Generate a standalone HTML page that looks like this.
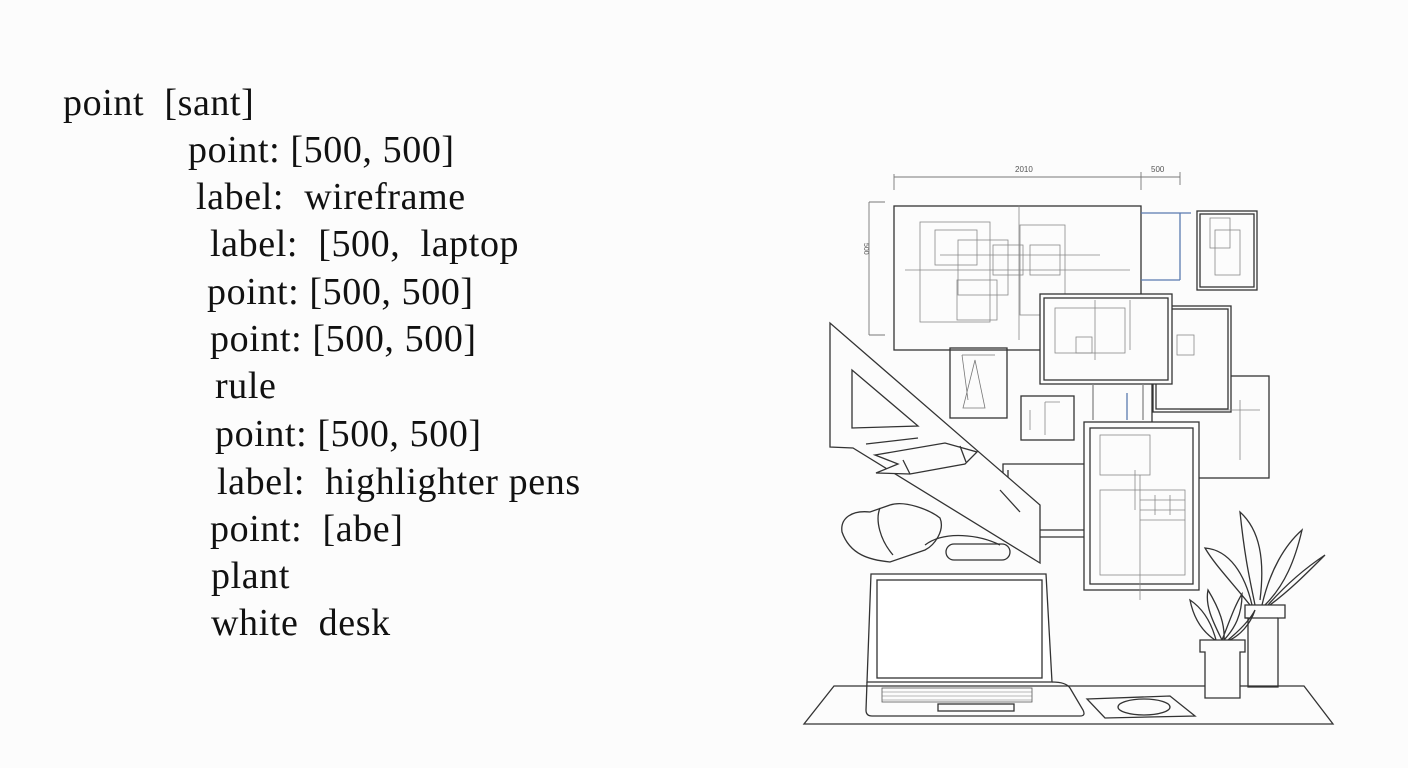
<!DOCTYPE html>
<html><head><meta charset="utf-8"><style>
html,body{margin:0;padding:0;background:#fcfcfc;}
body{width:1408px;height:768px;position:relative;overflow:hidden;}
.t{position:absolute;font-family:"Liberation Serif",serif;font-size:38px;letter-spacing:0.6px;color:#111;white-space:pre;line-height:1;}
svg{position:absolute;left:0;top:0;}
</style></head><body>
<div class="t" style="left:63px;top:84px">point  [sant]</div>
<div class="t" style="left:188px;top:131px">point: [500, 500]</div>
<div class="t" style="left:196px;top:178px">label:  wireframe</div>
<div class="t" style="left:210px;top:225px">label:  [500,  laptop</div>
<div class="t" style="left:207px;top:273px">point: [500, 500]</div>
<div class="t" style="left:210px;top:320px">point: [500, 500]</div>
<div class="t" style="left:215px;top:367px">rule</div>
<div class="t" style="left:215px;top:415px">point: [500, 500]</div>
<div class="t" style="left:217px;top:463px">label:  highlighter pens</div>
<div class="t" style="left:210px;top:510px">point:  [abe]</div>
<div class="t" style="left:211px;top:557px">plant</div>
<div class="t" style="left:211px;top:604px">white  desk</div>
<svg width="1408" height="768" viewBox="0 0 1408 768" fill="none" stroke="#333" stroke-width="1.3">
<path d="M894 174V190M894 177H1141M1141 172V190M1141 177H1180M1180 172V185M869 202H885M869 335H885M869 202V335" stroke="#777" stroke-width="0.9"/>
<text x="1015" y="172" font-size="8" fill="#555" stroke="none" font-family="Liberation Sans,sans-serif">2010</text>
<text x="1151" y="172" font-size="8" fill="#555" stroke="none" font-family="Liberation Sans,sans-serif">500</text>
<text x="864" y="243" font-size="7" fill="#555" stroke="none" font-family="Liberation Sans,sans-serif" transform="rotate(90 864 243)">500</text>
<rect x="894" y="206" width="247" height="144"/>
<g stroke="#888" stroke-width="0.8">
<rect x="920" y="222" width="70" height="100"/><rect x="935" y="230" width="42" height="35"/><rect x="958" y="240" width="50" height="55"/><rect x="993" y="245" width="30" height="30"/><rect x="1030" y="245" width="30" height="30"/><rect x="1020" y="225" width="45" height="90"/><rect x="957" y="280" width="40" height="40"/>
<path d="M1019 205V340M905 270H1130M940 255H1100"/>
</g>
<path d="M1141 213H1191M1180 213V280M1141 280H1180" stroke="#5a7ab0"/>
<rect x="1197" y="211" width="60" height="79"/><rect x="1200" y="214" width="54" height="73"/>
<g stroke="#888" stroke-width="0.8"><rect x="1210" y="218" width="20" height="30"/><rect x="1215" y="230" width="25" height="45"/></g>
<rect x="1152" y="376" width="117" height="102"/>
<rect x="1153" y="306" width="78" height="106" fill="#fcfcfc"/><rect x="1156" y="309" width="72" height="100"/>
<rect x="1040" y="294" width="132" height="90" fill="#fcfcfc"/><rect x="1044" y="298" width="124" height="82"/>
<g stroke="#888" stroke-width="0.8"><rect x="1055" y="308" width="70" height="45"/><rect x="1076" y="337" width="16" height="16"/><rect x="1177" y="335" width="17" height="20"/><path d="M1095 300V360M1130 300V350M1240 400V460M1180 410H1260"/></g>
<path d="M1093 384V420M1143 384V420" stroke="#888"/>
<path d="M1127 393V420" stroke="#5a7ab0"/>
<rect x="950" y="348" width="57" height="70"/>
<g stroke="#777" stroke-width="0.8"><path d="M962 355L968 400M962 355H995M975 360L985 408H963Z"/></g>
<rect x="1021" y="396" width="53" height="44"/>
<g stroke="#888" stroke-width="0.8"><path d="M1030 410V430M1045 402V435M1045 402H1060"/></g>
<path d="M1084 464H1003V537H1084M1008 470V530H1084"/>
<rect x="1084" y="422" width="115" height="168" fill="#fcfcfc"/><rect x="1090" y="428" width="103" height="156"/>
<g stroke="#888" stroke-width="0.8"><rect x="1100" y="435" width="50" height="40"/><rect x="1100" y="490" width="85" height="85"/><path d="M1140 475V600M1135 470V510M1140 500H1185M1140 510H1185M1140 520H1185M1155 495V515M1170 495V515"/></g>
<path d="M830 323V447L853 448L1040 563V505Z" fill="#fcfcfc"/>
<path d="M852 370V428L918 426Z"/>
<path d="M866 444L918 438"/>
<path d="M1020 512L1000 490"/>
<path d="M875 455L945 443L977 452L965 464L910 474L876 473L898 464Z" fill="#fcfcfc"/>
<path d="M903 460L910 474M960 446L966 462"/>
<path d="M842 532C840 518 852 510 870 512L890 505C905 500 930 510 940 518C945 530 935 545 925 550L890 562C870 560 850 555 842 532Z"/>
<path d="M880 508C875 520 880 540 893 555M925 545C945 530 980 535 1000 545"/>
<rect x="946" y="544" width="64" height="16" rx="8"/>
<path d="M871 574H1046L1052 682H867Z" fill="#fff"/>
<rect x="877" y="580" width="165" height="98"/>
<path d="M867 682L866 710Q866 716 872 716H1080Q1086 716 1083 710L1070 688Q1066 682 1052 682"/>
<rect x="882" y="688" width="150" height="14" stroke="#555" stroke-width="0.8"/>
<path d="M882 692H1032M882 696H1032M882 700H1032" stroke="#777" stroke-width="0.6"/>
<rect x="938" y="704" width="76" height="7"/>
<path d="M834 686H1304L1333 724H804Z"/>
<path d="M1087 699L1170 696L1195 716L1105 718Z"/>
<ellipse cx="1144" cy="707" rx="26" ry="8"/>
<path d="M1245 605H1285V618H1278V687H1248V618H1245Z"/>
<path d="M1245 618H1278"/>
<path d="M1255 605C1250 580 1245 560 1240 512C1260 530 1265 560 1260 600M1262 605C1270 570 1285 545 1302 530C1295 560 1285 585 1265 605M1250 605C1230 580 1215 565 1205 548C1230 550 1245 575 1252 605M1268 605C1290 580 1310 565 1325 555C1305 575 1290 590 1270 605"/>
<path d="M1200 640H1245V652H1240V698H1205V652H1200Z" fill="#fcfcfc"/>
<path d="M1222 640C1212 620 1205 605 1208 590C1220 610 1225 625 1224 640M1222 640C1230 620 1235 605 1242 594C1242 615 1235 628 1224 640M1215 640C1200 630 1193 615 1190 600C1205 610 1212 625 1216 640M1228 640C1240 630 1250 620 1255 610C1250 625 1240 635 1230 640"/>
</svg>
</body></html>
